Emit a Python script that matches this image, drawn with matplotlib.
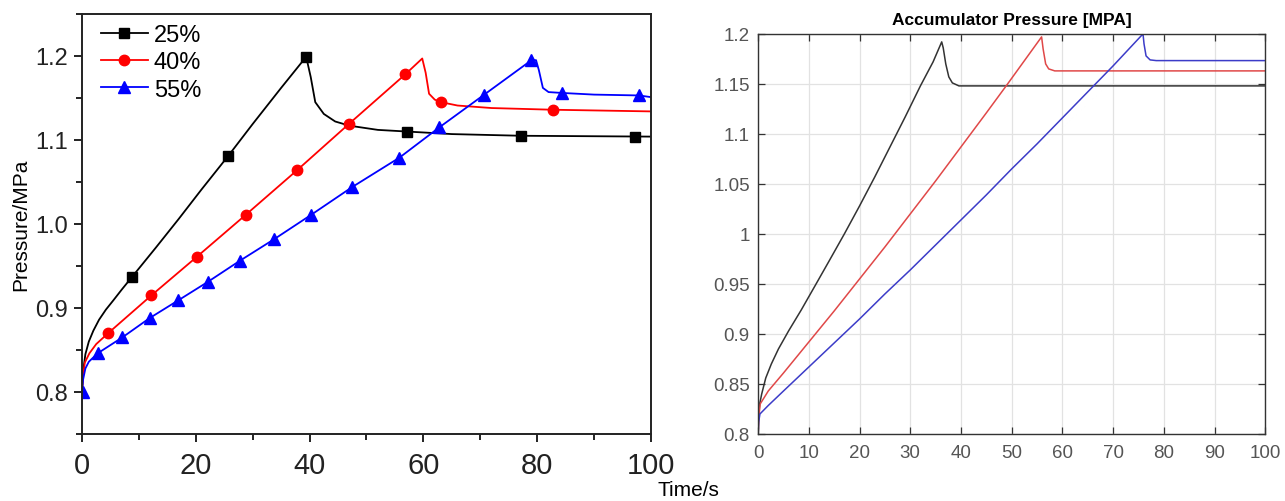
import numpy as np
import matplotlib.pyplot as plt
from matplotlib.ticker import MultipleLocator, FixedLocator

plt.rcParams['font.family'] = ['Liberation Sans', 'DejaVu Sans']

# left panel: measured curves (t in s, p in MPa)
t_25 = [0, 0.2, 0.6, 1.2, 2, 3, 4.2, 5.5, 7, 8.8, 13, 17, 21, 25.7, 30, 35, 39.4, 40.2, 41,
        42.5, 44.5, 47, 52, 57.2, 65, 77.2, 100]
p_25 = [0.8, 0.825, 0.845, 0.86, 0.873, 0.886, 0.898, 0.909, 0.922, 0.937, 0.972, 1.006,
        1.041, 1.081, 1.119, 1.162, 1.199, 1.175, 1.145, 1.131, 1.122, 1.117, 1.112, 1.110,
        1.107, 1.105, 1.104]
mt_25 = [8.8, 25.7, 39.4, 57.2, 77.2, 97.2]
mp_25 = [0.937, 1.081, 1.199, 1.110, 1.105, 1.104]

t_40 = [0, 0.2, 0.5, 1.3, 2.5, 4.6, 12.2, 20.2, 28.8, 37.8, 46.9, 56.8, 59.8, 60.4, 61,
        62, 63.1, 66, 72, 82.7, 100]
p_40 = [0.8, 0.82, 0.835, 0.846, 0.857, 0.87, 0.915, 0.961, 1.011, 1.064, 1.119, 1.178,
        1.197, 1.18, 1.155, 1.148, 1.145, 1.141, 1.138, 1.136, 1.134]
mt_40 = [4.6, 12.2, 20.2, 28.8, 37.8, 46.9, 56.8, 63.1, 82.7]
mp_40 = [0.87, 0.915, 0.961, 1.011, 1.064, 1.119, 1.178, 1.145, 1.136]

t_55 = [0, 0.2, 0.6, 1.2, 2.75, 7.1, 11.9, 16.9, 22.1, 27.7, 33.8, 40.3, 47.5, 55.8, 62.8,
        70.7, 79, 79.8, 80.3, 81, 82, 84.3, 90, 97.9, 100]
p_55 = [0.8, 0.815, 0.828, 0.836, 0.846, 0.865, 0.888, 0.909, 0.931, 0.956, 0.982, 1.011,
        1.044, 1.079, 1.115, 1.154, 1.195, 1.195, 1.183, 1.162, 1.157, 1.156, 1.154, 1.153, 1.151]
mt_55 = [0.2, 2.75, 7.1, 11.9, 16.9, 22.1, 27.7, 33.8, 40.3, 47.5, 55.8, 62.8, 70.7, 79, 84.3, 97.9]
mp_55 = [0.8, 0.846, 0.865, 0.888, 0.909, 0.931, 0.956, 0.982, 1.011, 1.044, 1.079, 1.115,
         1.154, 1.195, 1.156, 1.153]

# right panel: simulated accumulator pressure
ts_k = [0, 0.1, 0.3, 0.7, 1.5, 2.6, 4, 6, 8.5, 11.2, 14, 17, 20, 23, 26, 29, 32, 34.5,
        36.2, 36.5, 37, 37.6, 38.3, 39.6, 45, 100]
ps_k = [0.8, 0.818, 0.83, 0.84, 0.856, 0.87, 0.885, 0.903, 0.924, 0.948, 0.973, 1.0,
        1.028, 1.057, 1.087, 1.117, 1.148, 1.172, 1.192, 1.186, 1.17, 1.157, 1.151, 1.148,
        1.148, 1.148]
ts_r = [0, 0.15, 0.4, 2, 5, 10, 15, 20, 25, 30, 35, 40, 45, 49.2, 55.9, 56.2, 56.7, 57.3,
        58.5, 100]
ps_r = [0.8, 0.818, 0.83, 0.843, 0.861, 0.892, 0.923, 0.955, 0.987, 1.02, 1.053, 1.087,
        1.121, 1.15, 1.197, 1.185, 1.17, 1.165, 1.163, 1.163]
ts_b = [0, 0.1, 0.35, 2, 5, 10, 15, 20, 25, 30, 35, 40, 45, 50, 55, 60, 65, 70, 75.9,
        76.1, 76.5, 77.3, 78.5, 100]
ps_b = [0.8, 0.812, 0.82, 0.8285, 0.843, 0.867, 0.891, 0.915, 0.94, 0.964, 0.989, 1.014,
        1.039, 1.065, 1.09, 1.116, 1.142, 1.168, 1.2, 1.19, 1.178, 1.174, 1.1733, 1.1733]

labels = ['25%', '40%', '55%']
y_ticks_r = [0.8, 0.85, 0.9, 0.95, 1.0, 1.05, 1.1, 1.15, 1.2]

fig = plt.figure(figsize=(12.85, 5.02), dpi=100)

# ---- left: experiment (Origin style) ----
ax = fig.add_axes([0.0638, 0.1335, 0.4428, 0.8367])
series = [(t_25, p_25, mt_25, mp_25, 'black', 's', 6.5),
          (t_40, p_40, mt_40, mp_40, 'red', 'o', 7.5),
          (t_55, p_55, mt_55, mp_55, 'blue', '^', 8)]
for (t, p, mt, mp, c, m, ms), lab in zip(series, labels):
    ax.plot(t, p, color=c, lw=1.3)
    ax.plot(mt, mp, ls='none', marker=m, ms=ms, color=c)
    ax.plot([], [], color=c, lw=1.3, marker=m, ms=ms, label=lab)

ax.set_xlim(0, 100)
ax.set_ylim(0.75, 1.25)
ax.xaxis.set_major_locator(MultipleLocator(20))
ax.xaxis.set_minor_locator(MultipleLocator(10))
ax.yaxis.set_major_locator(FixedLocator([0.8, 0.9, 1.0, 1.1, 1.2]))
ax.yaxis.set_minor_locator(MultipleLocator(0.05))
ax.yaxis.set_major_formatter(plt.FormatStrFormatter('%.1f'))
ax.tick_params(which='both', direction='out', width=1.4, colors='#222222')
ax.tick_params(which='major', length=6)
ax.tick_params(which='minor', length=4)
ax.tick_params(axis='x', labelsize=21, pad=6)
ax.tick_params(axis='y', labelsize=17, pad=4)
for s in ax.spines.values():
    s.set_linewidth(1.4)
    s.set_color('#222222')
ax.set_ylabel('Pressure/MPa', fontsize=15, labelpad=4)
ax.legend(loc='upper left', frameon=False, fontsize=17, handlelength=2.0,
          handletextpad=0.25, labelspacing=0.22, borderaxespad=0.0,
          bbox_to_anchor=(0.016, 0.998))
fig.text(0.5355, 0.022, 'Time/s', fontsize=15, ha='center', va='center')

# ---- right: simulation (MATLAB style) ----
ax2 = fig.add_axes([0.590, 0.1335, 0.3946, 0.797])
ax2.plot(ts_k, ps_k, color='#333333', lw=1.1)
ax2.plot(ts_r, ps_r, color='#e04848', lw=1.1)
ax2.plot(ts_b, ps_b, color='#3c3cc8', lw=1.1)
ax2.set_xlim(0, 100)
ax2.set_ylim(0.8, 1.2)
ax2.xaxis.set_major_locator(MultipleLocator(10))
ax2.yaxis.set_major_locator(FixedLocator(y_ticks_r))
ax2.set_yticklabels(['%g' % v for v in y_ticks_r])
ax2.grid(True, color='#e2e2e2', lw=0.9)
ax2.set_axisbelow(True)
ax2.tick_params(direction='in', top=True, right=True, length=5, width=0.9,
                colors='#333333', labelcolor='#555555', labelsize=13.5)
ax2.tick_params(axis='x', pad=7)
ax2.tick_params(axis='y', pad=6)
for s in ax2.spines.values():
    s.set_linewidth(1.0)
    s.set_color('#333333')
ax2.set_title('Accumulator Pressure [MPA]', fontsize=12.5, fontweight='bold', pad=7)

fig.savefig('out.png', dpi=100)
